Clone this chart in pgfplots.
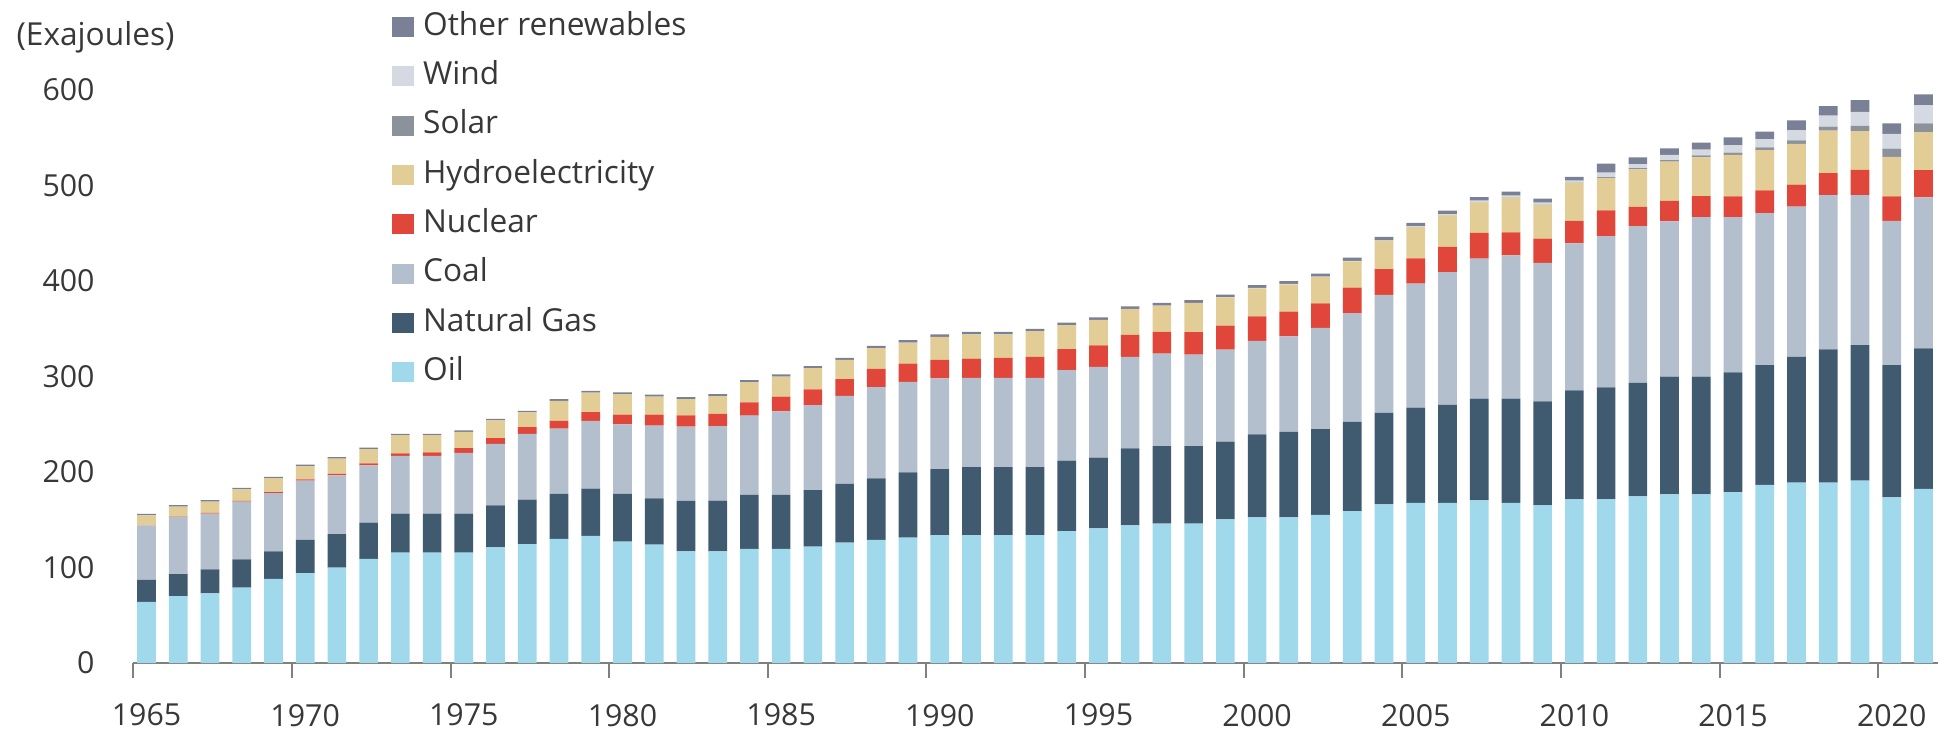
\documentclass[border=0pt]{standalone}
\usepackage{pgfplots}
\usepackage{pgfplotstable}
\pgfplotsset{compat=1.18}
\usepackage{fontspec}
\setmainfont{Open Sans}

\definecolor{cOil}{HTML}{A0D8EC}
\definecolor{cGas}{HTML}{405A70}
\definecolor{cCoal}{HTML}{B3BFCD}
\definecolor{cNuc}{HTML}{E0473A}
\definecolor{cHydro}{HTML}{E3CD96}
\definecolor{cSolar}{HTML}{8C929C}
\definecolor{cWind}{HTML}{D5D9E1}
\definecolor{cOther}{HTML}{7A8096}
\definecolor{cText}{HTML}{383838}
\definecolor{cAxis}{HTML}{808080}

% world primary energy consumption, exajoules
\pgfplotstableread{
year oil gas coal nuc hydro solar wind other
1965 64 23 57 0.2 10.5 0 0 1.5
1966 70 23 60 0.3 10.5 0 0 1.5
1967 73 25 58.5 0.6 12 0 0 1.5
1968 79 29.5 60.5 0.8 12 0 0 1.5
1969 88 29 61 1 14.5 0 0 1.5
1970 94 35 62 1.2 14 0 0 1.5
1971 100 35 61.5 1.5 16 0 0 1.5
1972 109 38 60 2 15 0 0 1.5
1973 115.5 41 60.5 2.5 19 0 0 1.5
1974 115.5 41 60.5 3.5 18 0 0 1.5
1975 115.5 41 63.5 5 17 0 0 1.5
1976 121 44 64.5 6 18.5 0 0 1.6
1977 124.5 46.5 69 7 15.4 0 0 1.6
1978 130 47 68.5 8 21 0 0 1.7
1979 133 49.6 71 9 20.5 0 0 1.8
1980 127 50 73 10 21.5 0 0 2
1981 124 48.5 76 11.5 19 0 0 2
1982 117 52.7 77.7 12 17 0 0 2
1983 117 53 78 13 18.5 0 0 2
1984 119.5 56.5 83 14 21 0 0 2.1
1985 119.5 56.5 87.5 15.5 21 0 0 2.2
1986 122 59 89 16.5 22.3 0 0 2.2
1987 126 61.5 92.3 17.5 20 0 0 2.3
1988 129 64.4 95.6 19 21.6 0 0 2.4
1989 131.4 68.3 94.7 19.2 22 0 0 2.4
1990 134 69 95 19.5 24 0 0 2.5
1991 134 71 93.6 20.2 25.4 0 0 2.5
1992 134 71 93.6 20.9 24.7 0 0 2.5
1993 134 71 93.6 22 26.8 0 0 2.6
1994 138 74 94.6 22 25.2 0 0 2.6
1995 141 74 95 22.5 26.8 0 0 2.7
1996 144 80.7 95.9 23 27.2 0 0 2.7
1997 146 81 97 22.7 27.5 0 0 2.8
1998 146 81 96 23.6 30.5 0 0 2.9
1999 150.5 81.2 96.5 25 29.6 0 0.2 2.8
2000 152.6 86.8 98 25.5 29.5 0 0.3 2.9
2001 152.6 89.4 100 26 28.5 0 0.4 3
2002 155 90 106 25.5 27.5 0 0.5 3.2
2003 159 93.5 114 26.5 27.5 0 0.6 3.3
2004 166 96 123.5 27 29.5 0.05 0.8 3.4
2005 167.8 99.5 130 26.5 32.5 0.05 1 3.5
2006 167.8 102.5 139 26.5 33 0.1 1.2 3.6
2007 170.4 106.5 146.5 27 32 0.1 1.6 3.8
2008 167.8 109 150 24 36.5 0.2 2 4
2009 165 109 145 25.5 35 0.2 2.5 4.2
2010 171.3 114.2 154 23.5 40 0.3 1.7 4
2011 171.3 117.2 158.5 27 34 0.8 4.7 9.5
2012 174.4 119 164.1 20 39.5 1.2 4.3 7
2013 176.6 123.4 162.5 21.5 41 1.5 5.5 7
2014 176.6 123.4 167 22 40.5 2 6 7.5
2015 179 125.3 162.7 21.5 43.5 2.5 7.5 8.5
2016 186.6 125.2 159.2 24 42 3 8.5 8
2017 188.8 131.8 157.4 23 42.5 3.8 10.5 10.5
2018 188.8 139.7 161.5 23 44.5 4.2 11.5 10
2019 191 141.9 157.1 26.5 40.5 5.5 14.5 12.5
2020 173.5 138.3 151.2 25.5 41.5 8.5 15.5 11
2021 182.3 147.1 158.1 28.5 40 9 19 11.5
}\energy

\begin{document}
\fontsize{9.5}{11.5}\selectfont
\color{cText}
\begin{tikzpicture}
\begin{axis}[
  at={(0,0)}, anchor=south west,
  scale only axis, width=541.44pt, height=171.9pt,
  xmin=1964.58, xmax=2021.46, ymin=0, ymax=600,
  clip=false,
  ybar stacked, bar width=5.6pt,
  axis x line*=bottom, axis y line*=left,
  x axis line style={cAxis, line width=0.6pt, -},
  y axis line style={draw=none},
  xtick={1964.58,1969.58,1974.58,1979.58,1984.58,1989.58,1994.58,1999.58,2004.58,2009.58,2014.58,2019.58},
  xticklabels={1965,1970,1975,1980,1985,1990,1995,2000,2005,2010,2015,2020},
  ytick={0,100,...,600},
  tick align=outside, major tick length=4.5pt,
  x tick style={cAxis, line width=0.6pt},
  y tick style={draw=none},
  xticklabel style={anchor=north, inner sep=0pt, xshift=4pt, yshift=-7.6pt},
  yticklabel style={anchor=east, inner sep=0pt, xshift=-6.9pt},
  ticklabel style={font=\fontsize{9.1}{11}\selectfont, text=cText},
  /pgf/number format/assume math mode=true,
  /pgf/number format/1000 sep={},
  every axis y label/.style={at={(axis description cs:-0.065,1.0925)}, anchor=west, inner sep=0pt},
  ylabel={(Exajoules)},
  reverse legend,
  legend cell align=left,
  legend image code/.code={\fill[#1] (0pt,-3pt) rectangle (6.6pt,3pt);},
  legend style={at={(axis cs:1972.74,682)}, anchor=north west, draw=none, fill=none,
    inner sep=0pt, outer sep=0pt, row sep=5.6pt, column sep=2.7pt,
    nodes={inner sep=0pt, text height=7pt, text depth=2.2pt, text=cText},
    font=\fontsize{9.5}{11.5}\selectfont},
]
\addplot[fill=cOil, draw=none] table[x=year, y=oil] {\energy};
\addplot[fill=cGas, draw=none] table[x=year, y=gas] {\energy};
\addplot[fill=cCoal, draw=none] table[x=year, y=coal] {\energy};
\addplot[fill=cNuc, draw=none] table[x=year, y=nuc] {\energy};
\addplot[fill=cHydro, draw=none] table[x=year, y=hydro] {\energy};
\addplot[fill=cSolar, draw=none] table[x=year, y=solar] {\energy};
\addplot[fill=cWind, draw=none] table[x=year, y=wind] {\energy};
\addplot[fill=cOther, draw=none] table[x=year, y=other] {\energy};
\legend{Oil,Natural Gas,Coal,Nuclear,Hydroelectricity,Solar,Wind,Other renewables}
\end{axis}
\pgfresetboundingbox
\path[use as bounding box] (-39.96pt,-21.9pt) rectangle (543.84pt,198.9pt);
\end{tikzpicture}
\end{document}
